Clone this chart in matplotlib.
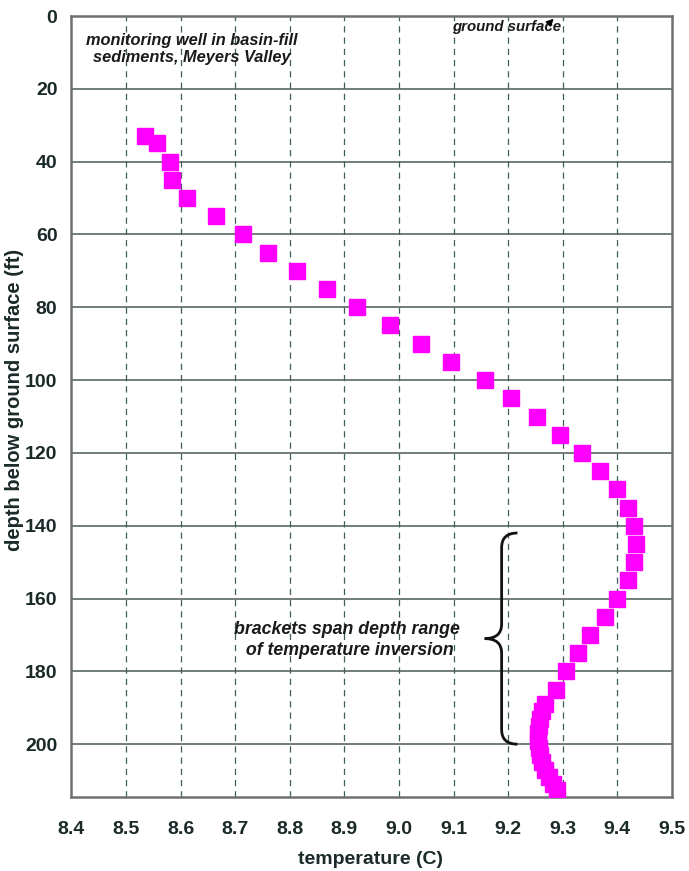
import numpy as np
import matplotlib.pyplot as plt
from matplotlib.path import Path
from matplotlib.patches import PathPatch

plt.rcParams['font.family'] = ['Liberation Sans', 'DejaVu Sans']

# temperature log, monitoring well
depth = [33, 35, 40, 45, 50, 55, 60, 65, 70, 75, 80, 85, 90, 95, 100,
         105, 110, 115, 120, 125, 130, 135, 140, 145, 150, 155, 160,
         165, 170, 175, 180, 185, 189, 191, 193, 195, 197, 199, 201,
         203, 205, 207, 209, 211, 212.5]
temp = [8.535, 8.556, 8.580, 8.585, 8.611, 8.665, 8.715, 8.761, 8.814,
        8.868, 8.923, 8.983, 9.040, 9.095, 9.157,
        9.205, 9.253, 9.295, 9.336, 9.368, 9.399, 9.420, 9.431, 9.434,
        9.431, 9.420, 9.400, 9.378, 9.350, 9.327, 9.306, 9.287, 9.268,
        9.262, 9.258, 9.256, 9.255, 9.255, 9.256, 9.258, 9.262, 9.267,
        9.274, 9.282, 9.290]

xticks = [8.4, 8.5, 8.6, 8.7, 8.8, 8.9, 9.0, 9.1, 9.2, 9.3, 9.4, 9.5]
yticks = [0, 20, 40, 60, 80, 100, 120, 140, 160, 180, 200]

# depth range of the temperature inversion (bracket)
inv_top, inv_bottom = 142, 200
brk_x, brk_tip, brk_end = 9.188, 9.157, 9.217

fig = plt.figure(figsize=(6.89, 8.71), dpi=100)
ax = fig.add_axes([0.1036, 0.085, 0.8717, 0.8966])

ax.set_xlim(8.4, 9.5)
ax.set_ylim(214.5, 0)
ax.set_xticks(xticks)
ax.set_xticklabels(['%.1f' % v for v in xticks])
ax.set_yticks(yticks)

for v in xticks[1:-1]:
    ax.axvline(v, color='#3f5f5a', lw=0.9, ls=(0, (5, 4)), zorder=1)
for v in yticks[1:]:
    ax.axhline(v, color='#4a5a58', lw=1.1, zorder=1)

ax.plot(temp, depth, ls='none', marker='s', ms=11, color='#ff00ff',
        mec='#ff00ff', zorder=3)

for s in ax.spines.values():
    s.set_color('#707070')
    s.set_linewidth(1.8)

ax.tick_params(length=0, labelsize=14)
ax.tick_params(axis='x', pad=17)
ax.tick_params(axis='y', pad=10)
for lab in ax.get_xticklabels() + ax.get_yticklabels():
    lab.set_fontweight('bold')
    lab.set_color('#1a2a28')

ax.set_xlabel('temperature (C)', fontsize=14, fontweight='bold',
              color='#1a2a28')
ax.xaxis.set_label_coords(0.4975, -0.069)
ax.set_ylabel('depth below ground surface (ft)', fontsize=14.5,
              fontweight='bold', color='#1a2a28', va='center')
ax.yaxis.set_label_coords(-0.094, 0.508)

ax.text(8.62, 9, 'monitoring well in basin-fill\nsediments, Meyers Valley',
        ha='center', va='center', fontsize=11.8, fontweight='bold',
        style='italic', color='#1a1a1a', linespacing=1.2)

ax.text(9.198, 3.0, 'ground surface', ha='center', va='center', fontsize=10.8,
        fontweight='bold', style='italic', color='#1a1a1a')
ax.annotate('', xy=(9.287, 0.2), xytext=(9.271, 2.6),
            arrowprops=dict(arrowstyle='-|>', color='black', lw=1.2,
                            mutation_scale=10))

ax.text(8.905, 171.5, 'brackets span depth range\n of temperature inversion',
        ha='center', va='center', fontsize=12.8, fontweight='bold',
        style='italic', color='#1a1a1a', linespacing=1.3)

# curly bracket
mid = (inv_top + inv_bottom) / 2
r = 4
verts = [(brk_end, inv_top), (brk_x, inv_top), (brk_x, inv_top + r),
         (brk_x, mid - r), (brk_x, mid), (brk_tip, mid),
         (brk_x, mid), (brk_x, mid + r),
         (brk_x, inv_bottom - r), (brk_x, inv_bottom), (brk_end, inv_bottom)]
codes = [Path.MOVETO, Path.CURVE3, Path.CURVE3,
         Path.LINETO, Path.CURVE3, Path.CURVE3,
         Path.CURVE3, Path.CURVE3,
         Path.LINETO, Path.CURVE3, Path.CURVE3]
ax.add_patch(PathPatch(Path(verts, codes), fill=False, lw=2.0,
                       color='#111111', zorder=4, clip_on=False))

fig.savefig('out.png', dpi=100)
